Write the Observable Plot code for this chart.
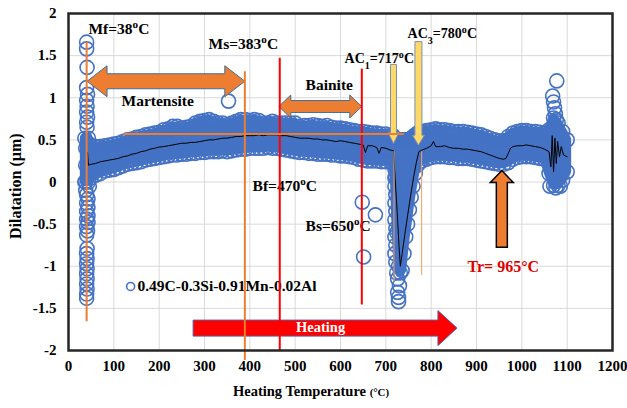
<!DOCTYPE html>
<html><head><meta charset="utf-8">
<script src="https://cdn.jsdelivr.net/npm/d3@7"></script>
<script src="https://cdn.jsdelivr.net/npm/@observablehq/plot@0.6"></script>
<style>html,body{margin:0;padding:0;background:#fff;}</style>
</head><body><div id="chart"></div>
<script>
// ---------- data ----------
const xTicks = [0,100,200,300,400,500,600,700,800,900,1000,1100,1200];
const yTicks = [-2,-1.5,-1,-0.5,0,0.5,1,1.5,2];

// black mean dilatation curve
const lineT = [42,44,50,60,70,80,90,100,110,120,130,140,150,160,170,180,190,200,210,220,230,240,250,260,270,280,290,300,310,320,330,340,350,360,370,380,390,400,410,420,430,440,450,460,470,480,490,500,510,520,530,540,550,560,570,580,590,600,610,620,630,640,650,655,660,670,680,685,690,700,710,717,721,725,729,732,736,742,748,755,762,768,773,780,790,800,805,810,820,830,840,850,860,870,880,890,900,910,920,930,940,950,960,965,970,975,980,990,1000,1010,1020,1030,1040,1050,1060,1064,1067,1070,1073,1076,1079,1083,1087,1092,1100];
const lineV = [0.35,0.20,0.21,0.22,0.24,0.25,0.26,0.27,0.28,0.30,0.31,0.33,0.34,0.36,0.37,0.39,0.40,0.415,0.42,0.43,0.44,0.45,0.46,0.46,0.47,0.47,0.48,0.49,0.50,0.50,0.51,0.52,0.52,0.53,0.54,0.54,0.55,0.55,0.55,0.56,0.55,0.56,0.56,0.56,0.55,0.55,0.54,0.53,0.52,0.52,0.52,0.51,0.51,0.50,0.50,0.49,0.48,0.49,0.48,0.47,0.46,0.45,0.44,0.35,0.43,0.43,0.41,0.34,0.41,0.40,0.38,0.37,0.0,-0.35,-0.75,-1.0,-0.85,-0.62,-0.4,-0.15,0.08,0.25,0.36,0.38,0.40,0.43,0.48,0.42,0.42,0.43,0.41,0.40,0.40,0.39,0.39,0.38,0.37,0.36,0.34,0.32,0.30,0.28,0.27,0.28,0.34,0.40,0.42,0.43,0.43,0.44,0.43,0.42,0.41,0.39,0.36,0.18,0.55,0.12,0.52,0.22,0.48,0.30,0.42,0.32,0.30];

// scatter band (upper / lower envelope of circle centres)
const bandT = [36,44,50,60,70,80,90,100,110,120,130,140,150,160,170,180,190,200,210,220,230,240,250,260,270,280,290,300,310,320,330,340,350,360,370,380,390,400,410,420,430,440,450,460,470,480,490,500,510,520,530,540,550,560,570,580,590,600,610,620,630,640,650,660,670,680,690,700,710,716,720,724,728,732,736,740,744,748,752,756,760,765,770,775,780,790,800,810,820,830,840,850,860,870,880,890,900,910,920,930,940,950,960,970,980,990,1000,1010,1020,1030,1040,1050,1060,1070,1080,1090,1100];
const bandUpper = [0.52,0.52,0.42,0.42,0.42,0.43,0.44,0.45,0.46,0.48,0.50,0.51,0.53,0.54,0.56,0.57,0.58,0.59,0.62,0.63,0.66,0.66,0.64,0.65,0.66,0.70,0.72,0.73,0.74,0.72,0.70,0.70,0.68,0.70,0.72,0.74,0.74,0.73,0.74,0.73,0.70,0.70,0.72,0.70,0.70,0.70,0.70,0.70,0.66,0.67,0.67,0.68,0.67,0.66,0.67,0.65,0.64,0.64,0.63,0.62,0.61,0.60,0.60,0.59,0.58,0.58,0.57,0.57,0.55,0.55,0.52,0.50,0.50,0.50,0.50,0.50,0.50,0.50,0.50,0.52,0.54,0.56,0.58,0.60,0.60,0.61,0.62,0.63,0.62,0.62,0.61,0.60,0.60,0.60,0.59,0.58,0.57,0.56,0.54,0.52,0.50,0.49,0.49,0.54,0.58,0.60,0.61,0.61,0.60,0.60,0.59,0.58,0.62,0.76,0.70,0.60,0.50];
const bandLower = [0.0,0.0,0.05,0.08,0.10,0.13,0.14,0.15,0.17,0.19,0.21,0.22,0.23,0.24,0.26,0.27,0.28,0.29,0.30,0.31,0.32,0.32,0.33,0.33,0.34,0.34,0.35,0.35,0.36,0.36,0.36,0.37,0.36,0.37,0.38,0.39,0.39,0.40,0.40,0.40,0.40,0.41,0.40,0.40,0.39,0.38,0.37,0.36,0.35,0.35,0.34,0.34,0.33,0.33,0.33,0.32,0.32,0.31,0.31,0.30,0.29,0.27,0.26,0.25,0.25,0.25,0.24,0.24,0.24,0.22,0.05,-0.6,-1.0,-1.08,-1.05,-0.85,-0.65,-0.5,-0.33,-0.18,-0.05,0.10,0.20,0.24,0.25,0.27,0.29,0.30,0.30,0.30,0.29,0.29,0.28,0.28,0.28,0.27,0.26,0.25,0.24,0.23,0.22,0.21,0.21,0.23,0.27,0.29,0.30,0.30,0.30,0.29,0.28,0.27,0.10,-0.04,-0.04,0.02,0.12];

// isolated circles (Mf column, dip column, strays)
const outlierT = [40,40,41,40,42,40,41,40,42,40,41, 38,46,38,46,38,46,38,46, 40,43,40,43,40,43,40,43,40,42,40,41,40,41,40,41,40,41,40,41,40,40,
  720,722,720,722,720,722,720,722,720,722,720,722,724,726,730,726,728,728,
  353,648,677,651,1077,1068,1070,1072,1074,1076,1062,1075,1085];
const outlierV = [1.66,1.58,1.36,1.12,1.04,0.97,0.90,0.83,0.77,0.71,0.65, 0.40,0.30,0.20,0.10,0.0,-0.05,-0.10,0.45, -0.15,-0.20,-0.25,-0.30,-0.35,-0.40,-0.44,-0.48,-0.53,-0.58,-0.63,-0.79,-0.85,-0.91,-0.97,-1.03,-1.09,-1.15,-1.21,-1.27,-1.33,-1.38,
  0.15,0.05,-0.05,-0.15,-0.25,-0.35,-0.45,-0.55,-0.65,-0.75,-0.85,-0.95,-1.08,-1.15,-1.23,-1.31,-1.37,-1.42,
  0.96,-0.24,-0.39,-0.89,1.2,1.02,0.95,0.88,0.81,0.74,-0.05,-0.07,-0.05];

// transition temperatures (vertical guide lines)
const guideT  = [40, 389, 466, 647, 718, 779];
const guideV1 = [1.66, 1.31, 1.47, 1.34, 0.36, 0.36];
const guideV2 = [-1.66, -2.12, -2.0, -1.46, -1.19, -1.11];
const guideColor = ["#ED7D31","#ED7D31","#FF0000","#FF0000","#F0A060","#F0A060"];
const guideWidth = [2,2,2,2,1,1];

// ---------- build tables ----------
const line = lineT.map((t,i)=>({t, v: lineV[i]}));
const band = bandT.map((t,i)=>({t, hi: bandUpper[i], lo: bandLower[i]}));
const bandDots = band.flatMap(d=>[{t:d.t, v:d.hi},{t:d.t, v:d.lo}]);
const outliers = outlierT.map((t,i)=>({t, v: outlierV[i]}));
const guides = guideT.map((t,i)=>({t, v1: guideV1[i], v2: guideV2[i], c: guideColor[i], w: guideWidth[i]}));

const BLUE = "#4472C4", ORANGE = "#ED7D31";
const serif = "Liberation Serif";

const labels = [
  {t:44,  v:1.82, s:"Mf=38^oC", c:"#000", f:serif, z:15.5},
  {t:309, v:1.64, s:"Ms=383^oC", c:"#000", f:serif, z:15.5},
  {t:117, v:0.96, s:"Martensite", c:"#000", f:serif, z:15.5},
  {t:523, v:1.15, s:"Bainite", c:"#000", f:serif, z:15.5},
  {t:406, v:-0.05, s:"Bf=470^oC", c:"#000", f:serif, z:15.5},
  {t:523, v:-0.52, s:"Bs=650^oC", c:"#000", f:serif, z:15.5},
  {t:609, v:1.47, s:"AC_1=717^oC", c:"#000", f:"Lato", z:14},
  {t:748, v:1.76, s:"AC_3=780^oC", c:"#000", f:"Lato", z:14},
  {t:880, v:-1.01, s:"Tr= 965°C", c:"#E00000", f:serif, z:16},
  {t:152, v:-1.24, s:"0.49C-0.3Si-0.91Mn-0.02Al", c:"#000", f:serif, z:15.5}
];

const arrows = [
  {x1:42, y1:1.19, x2:390, y2:1.19, shaft:15, head:31, hl:20, dbl:true, fill:ORANGE, stroke:"#41719C", sw:1},
  {x1:465, y1:0.89, x2:648, y2:0.89, shaft:12, head:23, hl:12, dbl:true, fill:ORANGE, stroke:"#41719C", sw:1},
  {x1:276, y1:-1.74, x2:858, y2:-1.74, shaft:16, head:35, hl:19, dbl:false, fill:"#FF0000", stroke:"#5B5B9B", sw:1},
  {x1:957, y1:-0.78, x2:957, y2:0.13, shaft:11, head:23, hl:12, dbl:false, fill:ORANGE, stroke:"#000", sw:1.5},
  {x1:718, y1:1.39, x2:718, y2:0.45, shaft:6, head:11, hl:11, dbl:false, fill:"#FFD966", stroke:"#7A8FB5", sw:1},
  {x1:773, y1:1.66, x2:773, y2:0.43, shaft:7, head:12, hl:10, dbl:false, fill:"#FFD966", stroke:"#7A8FB5", sw:1}
];

function arrowPoly(x1,y1,x2,y2,s,h,hl,dbl){
  const L = Math.hypot(x2-x1,y2-y1), ux=(x2-x1)/L, uy=(y2-y1)/L, nx=-uy, ny=ux;
  const P=(bx,by,a,b)=>[bx+ux*a+nx*b, by+uy*a+ny*b];
  const pts=[];
  if (dbl){
    pts.push(P(x1,y1,0,0), P(x1,y1,hl,h/2), P(x1,y1,hl,s/2));
  } else {
    pts.push(P(x1,y1,0,s/2));
  }
  pts.push(P(x2,y2,-hl,s/2), P(x2,y2,-hl,h/2), P(x2,y2,0,0), P(x2,y2,-hl,-h/2), P(x2,y2,-hl,-s/2));
  if (dbl){
    pts.push(P(x1,y1,hl,-s/2), P(x1,y1,hl,-h/2));
  } else {
    pts.push(P(x1,y1,0,-s/2));
  }
  return pts.map(p=>p.map(n=>n.toFixed(2)).join(",")).join(" ");
}
function arrowMark(index, scales){
  const g = d3.create("svg:g");
  for (const a of arrows){
    g.append("polygon")
      .attr("points", arrowPoly(scales.x(a.x1),scales.y(a.y1),scales.x(a.x2),scales.y(a.y2),a.shaft,a.head,a.hl,a.dbl))
      .attr("fill", a.fill).attr("stroke", a.stroke).attr("stroke-width", a.sw).attr("stroke-linejoin","miter");
  }
  return g.node();
}

const svg = Plot.plot({
  width: 627, height: 408,
  marginLeft: 68, marginRight: 15, marginTop: 13, marginBottom: 58,
  style: {fontFamily: serif, fontSize: "15px", fontWeight: "bold", color: "#000", background: "#fff"},
  x: {domain: [0,1200], ticks: xTicks, tickSize: 0, tickPadding: 10, tickFormat: d => `${d}`, label: null},
  y: {domain: [-2,2], ticks: yTicks, tickSize: 0, tickPadding: 12, tickFormat: d => `${d}`, label: null},
  marks: [
    Plot.ruleX(xTicks.slice(1,-1), {stroke: "#D9D9D9", strokeWidth: 1}),
    Plot.ruleY(yTicks.slice(1,-1), {stroke: "#D9D9D9", strokeWidth: 1}),
    Plot.areaY(band, {x: "t", y1: "lo", y2: "hi", fill: BLUE, stroke: BLUE, strokeWidth: 9, strokeLinejoin: "round"}),
    Plot.dot(bandDots, {x: "t", y: "v", r: 7, stroke: BLUE, strokeWidth: 1.6}),
    Plot.dot(outliers, {x: "t", y: "v", r: 7, stroke: BLUE, strokeWidth: 1.6}),
    Plot.line(line, {x: "t", y: "v", stroke: "#000", strokeWidth: 1}),
    arrowMark,
    Plot.text(labels, {x: "t", y: "v", text: "s", fill: "c", fontFamily: d => d.f, fontSize: d => d.z, fontWeight: "bold", textAnchor: "start"}),
    Plot.text(["Heating"], {x: 556, y: -1.73, text: d => d, fill: "#fff", fontSize: 14.5, fontWeight: "bold"}),
    Plot.dot([0], {x: 137, y: -1.24, r: 4, stroke: BLUE, strokeWidth: 1.6}),
    Plot.text(["Heating Temperature ~(°C)~"], {x: 535, y: -2.49, text: d => d, fontSize: 14.5, fontWeight: "bold"}),
    Plot.text(["Dilatation (µm)"], {x: -117, y: -0.05, text: d => d, rotate: -90, fontSize: 16, fontWeight: "bold"}),
    Plot.ruleX(guides, {x: "t", y1: "v1", y2: "v2", stroke: "c", strokeWidth: "w"}),
    Plot.ruleY([0.57], {x1: 122, x2: 741, stroke: ORANGE, strokeWidth: 2}),
    Plot.frame({stroke: "#262626", strokeWidth: 2.5})
  ]
});

// rich text: ^x superscript, _x subscript, ~...~ smaller
const NS = "http://www.w3.org/2000/svg";
d3.select(svg).selectAll("text").each(function(){
  const s = this.textContent;
  if (!/[\^_~]/.test(s)) return;
  while (this.firstChild) this.removeChild(this.firstChild);
  let buf = "", small = false;
  const flush = () => {
    if (!buf) return;
    const t = document.createElementNS(NS, "tspan");
    t.textContent = buf;
    if (small) t.style.fontSize = "0.75em";
    this.appendChild(t); buf = "";
  };
  for (let i = 0; i < s.length; i++){
    const c = s[i];
    if (c === "^" || c === "_"){
      flush();
      const t = document.createElementNS(NS, "tspan");
      t.textContent = s[i+1];
      t.style.fontSize = "0.72em";
      t.setAttribute("baseline-shift", c === "^" ? "super" : "sub");
      this.appendChild(t); i++;
    } else if (c === "~"){ flush(); small = !small; }
    else buf += c;
  }
  flush();
});
document.getElementById("chart").appendChild(svg);
</script>
</body></html>
